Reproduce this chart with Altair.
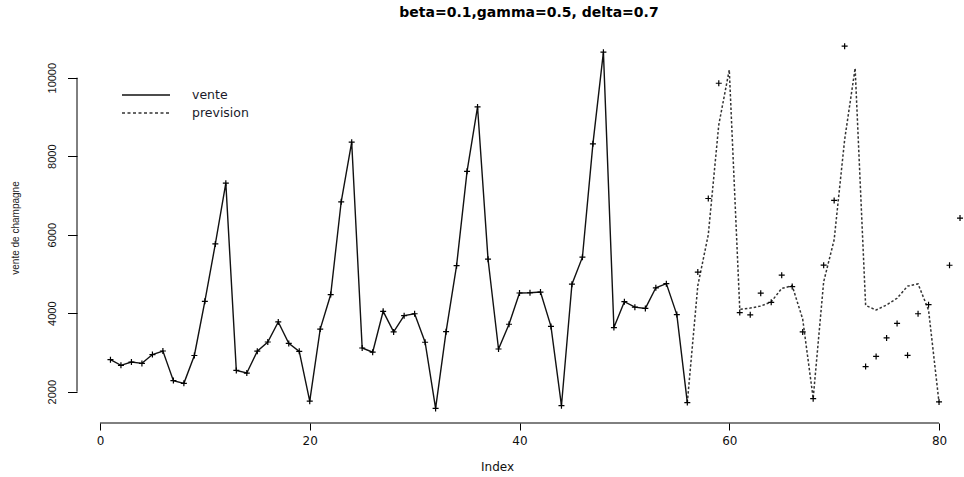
import altair as alt
import pandas as pd

titre = "beta=0.1,gamma=0.5, delta=0.7"
label_y = "vente de champagne"
label_x = "Index"
legende = ["vente", "prevision"]

# monthly champagne sales, months 1..56 (fitted window)
vente = [2815, 2672, 2755, 2721, 2946, 3036, 2282, 2212, 2922, 4301, 5764, 7312,
         2541, 2475, 3031, 3266, 3776, 3230, 3028, 1759, 3595, 4474, 6838, 8357,
         3113, 3006, 4047, 3523, 3937, 3986, 3260, 1573, 3528, 5211, 7614, 9254,
         5375, 3088, 3718, 4514, 4520, 4539, 3663, 1643, 4739, 5428, 8314, 10651,
         3633, 4292, 4154, 4121, 4647, 4753, 3965, 1723]
# observed sales for months 57..82 (None: above the plotting range)
vente_suite = [5048, 6922, 9858, None, 4016, 3957, 4510, 4276, 4968, 4677, 3523, 1821,
               5222, 6872, 10803, None, 2639, 2899, 3370, 3740, 2927, 3986, 4217, 1738,
               5221, 6424]
# Holt-Winters forecast, months 56..80
prevision = [1723, 4700, 6000, 8800, 10200, 4100, 4130, 4180, 4290, 4630, 4700, 3850, 1830,
             4800, 5870, 8420, 10240, 4200, 4080, 4210, 4380, 4690, 4745, 4080, 1720]

x_ticks = [0, 20, 40, 60, 80]
y_ticks = [2000, 4000, 6000, 8000, 10000]

W, H = 887, 391
x_dom = [-2.19, 82.38]
y_dom = [1202, 11164]

df_vente = pd.DataFrame({"idx": range(1, len(vente) + 1), "val": vente})
df_suite = pd.DataFrame({"idx": range(57, 57 + len(vente_suite)), "val": vente_suite}).dropna()
df_prev = pd.DataFrame({"idx": range(56, 56 + len(prevision)), "val": prevision})
df_pts = pd.concat([df_vente, df_suite], ignore_index=True)

xs = alt.Scale(domain=x_dom, nice=False, zero=False)
ys = alt.Scale(domain=y_dom, nice=False, zero=False)

x_axis = alt.Axis(values=x_ticks, format="d", domain=False, grid=False, tickSize=7,
                  tickColor="black", tickWidth=1, labelFont="DejaVu Sans", labelFontSize=12,
                  labelColor="#111", labelPadding=5, labelFlush=False, title=label_x,
                  titleFont="DejaVu Sans", titleFontSize=12, titleFontWeight="normal",
                  titleColor="#111", titleX=420, titleY=43, titleAnchor="middle",
                  titleAlign="center", titleBaseline="middle")
y_axis = alt.Axis(values=y_ticks, format="d", domain=False, grid=False, tickSize=9.5,
                  tickColor="black", tickWidth=1, labelFont="Liberation Sans", labelFontSize=11,
                  labelColor="#111", labelAngle=270, labelAlign="center", labelBaseline="bottom",
                  labelPadding=10, labelFlush=False, title=label_y, titleFont="Liberation Sans",
                  titleFontSize=10, titleFontWeight="normal", titleColor="#222", titleX=-62,
                  titleY=H / 2, titleAngle=270, titleAlign="center", titleBaseline="middle")


def enc_x(field):
    return alt.X(field, type="quantitative", scale=xs, axis=x_axis)


def enc_y(field):
    return alt.Y(field, type="quantitative", scale=ys, axis=y_axis)


ligne_vente = alt.Chart(df_vente).mark_line(color="#111", strokeWidth=1.4).encode(
    x=enc_x("idx"), y=enc_y("val"))

ligne_prev = alt.Chart(df_prev).mark_line(color="#333", strokeWidth=1.5, strokeDash=[2.5, 2],
                                          clip=True).encode(x=enc_x("idx"), y=enc_y("val"))

plus = "M-1,0H1M0,-1V1"
points = alt.Chart(df_pts).mark_point(shape=plus, filled=False, color="black", size=36,
                                      strokeWidth=1.2, opacity=1, clip=True).encode(
    x=enc_x("idx"), y=enc_y("val"))

# R-style axis lines spanning only the tick range
ax_x = alt.Chart(pd.DataFrame({"idx": [x_ticks[0]], "b": [x_ticks[-1]]})).mark_rule(
    color="black", strokeWidth=1).encode(x=enc_x("idx"), x2="b:Q", y=alt.value(H))
ax_y = alt.Chart(pd.DataFrame({"val": [y_ticks[0]], "b": [y_ticks[-1]]})).mark_rule(
    color="black", strokeWidth=1).encode(y=enc_y("val"), y2="b:Q", x=alt.value(0))

one = pd.DataFrame({"k": [0]})
leg_solid = alt.Chart(one).mark_rule(color="#111", strokeWidth=1.4).encode(
    x=alt.value(45), x2=alt.value(93), y=alt.value(63))
leg_dash = alt.Chart(one).mark_rule(color="#333", strokeWidth=1.5, strokeDash=[3, 2.5]).encode(
    x=alt.value(45), x2=alt.value(93), y=alt.value(81))
leg_txt = [
    alt.Chart(pd.DataFrame({"t": [lab]})).mark_text(
        align="left", baseline="middle", font="DejaVu Sans", fontSize=12.5,
        color="#1a1a2a").encode(text="t:N", x=alt.value(115), y=alt.value(yy))
    for lab, yy in zip(legende, [63, 81])
]

titre_txt = alt.Chart(pd.DataFrame({"t": [titre]})).mark_text(
    align="center", baseline="middle", font="DejaVu Sans", fontSize=14, fontWeight="bold",
    color="black").encode(text="t:N", x=alt.value(452), y=alt.value(-19))

chart = alt.layer(ligne_vente, ligne_prev, points, ax_x, ax_y, leg_solid, leg_dash, *leg_txt,
                  titre_txt).properties(
    width=W, height=H, autosize=alt.AutoSizeParams(type="none"),
    padding={"left": 77, "top": 32, "right": 0, "bottom": 54},
).configure_view(stroke=None)

chart.save("out.html", embed_options={"renderer": "svg", "actions": False})
